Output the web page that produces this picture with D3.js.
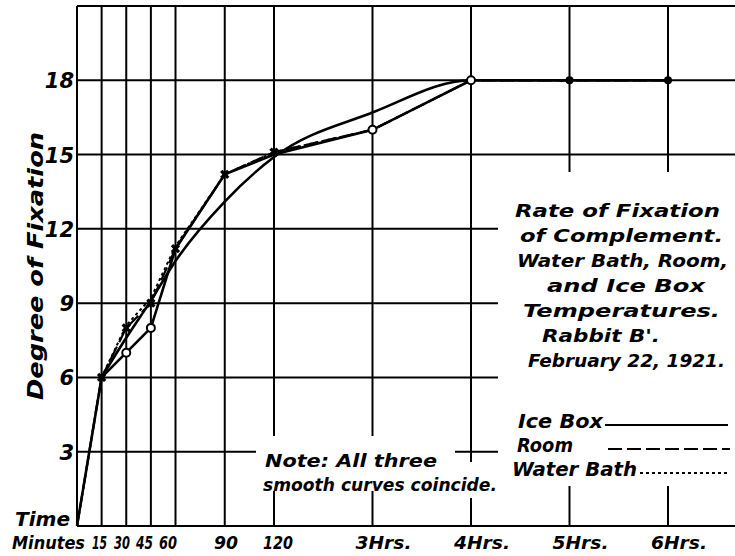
<!DOCTYPE html>
<html>
<head>
<meta charset="utf-8">
<script src="https://cdn.jsdelivr.net/npm/d3@7"></script>
<style>
  body { margin: 0; background: #fff; }
  text { font-family: "DejaVu Sans", sans-serif; font-weight: bold; font-style: italic; fill: #000; }
</style>
</head>
<body>
<div id="chartHolder"></div>
<script>
// data (minutes vs degree of fixation)
const timeMin   = [0, 15, 30, 45, 60, 90, 120, 180, 240, 300, 360];
const iceBox    = [0, 6, 7, 8, 11.2, 14.2, 15.0, 16.0, 18, 18, 18];
const room      = [0, 6, 8, 9, 11.2, 14.2, 15.1, 16.0, 18, 18, 18];
const waterBath = [0, 6, 8.1, 9.2, 11.3, 14.2, 15.1, 16.0, 18, 18, 18];

// the smooth curve (all three coincide)
const smoothTime  = [15, 30, 45, 60, 90, 120, 180, 240, 300, 360];
const smoothCurve = [6, 7.6, 9.1, 10.7, 13.1, 14.9, 16.7, 18, 18, 18];

// marker positions (times)
const circleMarks = [30, 45, 180, 240];
const dotMarks    = [300, 360];
const crossMarks  = [15, 30, 45, 60, 90, 120];

const xTicks      = [15, 30, 45, 60, 90, 120, 180, 240, 300, 360];
const xTickLabels = ["15", "30", "45", "60", "90", "120", "3Hrs.", "4Hrs.", "5Hrs.", "6Hrs."];
const yTicks      = [3, 6, 9, 12, 15, 18];

const titleLines  = ["Rate of Fixation", "of Complement.", "Water Bath, Room,", "and Ice Box",
                     "Temperatures.", "Rabbit B'.", "February 22, 1921."];
const legendNames = ["Ice Box", "Room", "Water Bath"];
const noteLines   = ["Note: All three", "smooth curves coincide."];

const w = 735, h = 556;

const svg = d3.select("#chartHolder").append("svg")
  .attr("width", w)
  .attr("height", h);

// scales: 0..360 min, 0..21 degrees
const x = d3.scaleLinear().domain([0, 360]).range([77, 668]);
const y = d3.scaleLinear().domain([0, 21]).range([526, 6]);

// grid
const grid = svg.append("g").attr("stroke", "#000").attr("stroke-width", 2);
grid.selectAll("line.v")
  .data(xTicks)
  .enter().append("line")
    .attr("class", "v")
    .attr("x1", d => x(d)).attr("x2", d => x(d))
    .attr("y1", y(21)).attr("y2", y(0));
grid.selectAll("line.h")
  .data(yTicks.concat([21]))
  .enter().append("line")
    .attr("class", "h")
    .attr("x1", x(0)).attr("x2", w)
    .attr("y1", d => y(d)).attr("y2", d => y(d));
// axes frame
grid.append("line").attr("x1", x(0)).attr("x2", x(0)).attr("y1", y(21)).attr("y2", y(0));
grid.append("line").attr("x1", x(0)).attr("x2", w).attr("y1", y(0)).attr("y2", y(0));

// white patches where the draughtsman lettered over the grid
const masks = [[498, 172, 237, 314], [256, 436, 199, 55], [462, 462, 36, 36]];
svg.selectAll("rect.mask")
  .data(masks)
  .enter().append("rect")
    .attr("class", "mask")
    .attr("x", d => d[0]).attr("y", d => d[1])
    .attr("width", d => d[2]).attr("height", d => d[3])
    .attr("fill", "#fff");

// lines
const pts = vals => timeMin.map((t, i) => [t, vals[i]]);
const line = d3.line().x(d => x(d[0])).y(d => y(d[1]));
const smooth = d3.line().x(d => x(d[0])).y(d => y(d[1])).curve(d3.curveMonotoneX);

svg.append("path")
  .attr("d", line(pts(waterBath)))
  .attr("fill", "none").attr("stroke", "#000").attr("stroke-width", 2)
  .attr("stroke-dasharray", "3,3");
svg.append("path")
  .attr("d", line(pts(room)))
  .attr("fill", "none").attr("stroke", "#000").attr("stroke-width", 2.2)
  .attr("stroke-dasharray", "14,5");
svg.append("path")
  .attr("d", line(pts(iceBox)))
  .attr("fill", "none").attr("stroke", "#000").attr("stroke-width", 2.6);
svg.append("path")
  .attr("d", smooth(smoothTime.map((t, i) => [t, smoothCurve[i]])))
  .attr("fill", "none").attr("stroke", "#000").attr("stroke-width", 2.6);

// markers
const valAt = (vals, t) => vals[timeMin.indexOf(t)];
svg.selectAll("circle.ice")
  .data(circleMarks)
  .enter().append("circle")
    .attr("class", "ice")
    .attr("cx", d => x(d)).attr("cy", d => y(valAt(iceBox, d)))
    .attr("r", 4).attr("fill", "#fff").attr("stroke", "#000").attr("stroke-width", 2);
svg.selectAll("circle.dot")
  .data(dotMarks)
  .enter().append("circle")
    .attr("class", "dot")
    .attr("cx", d => x(d)).attr("cy", d => y(valAt(iceBox, d)))
    .attr("r", 4).attr("fill", "#000");
svg.selectAll("path.cross")
  .data(crossMarks)
  .enter().append("path")
    .attr("class", "cross")
    .attr("d", d3.symbol().type(d3.symbolCross).size(55))
    .attr("transform", d => "translate(" + x(d) + "," + y(valAt(room, d)) + ") rotate(45)")
    .attr("fill", "#000");

// y tick labels
svg.selectAll("text.ylab")
  .data(yTicks)
  .enter().append("text")
    .attr("class", "ylab")
    .attr("x", 74).attr("y", d => y(d) + 8)
    .attr("text-anchor", "end")
    .style("font-size", "21px")
    .text(d => d);

// x tick labels (the minute ones are crowded, as on the plate)
const xStart = [92, 114, 136, 159, 214, 263];
const xLen = [15, 16, 17, 18, 24, 30];
svg.selectAll("text.xlab")
  .data(xTicks)
  .enter().append("text")
    .attr("class", "xlab")
    .attr("x", (d, i) => i < 6 ? xStart[i] : x(d) - 17)
    .attr("y", 549)
    .attr("textLength", (d, i) => i < 6 ? xLen[i] : 56)
    .attr("lengthAdjust", "spacingAndGlyphs")
    .style("font-size", "17px")
    .text((d, i) => xTickLabels[i]);

svg.append("text").attr("x", 15).attr("y", 526)
  .attr("textLength", 55).attr("lengthAdjust", "spacingAndGlyphs")
  .style("font-size", "19px").text("Time");
svg.append("text").attr("x", 12).attr("y", 549)
  .attr("textLength", 73).attr("lengthAdjust", "spacingAndGlyphs")
  .style("font-size", "18px").text("Minutes");

// y axis title
svg.append("text")
  .attr("transform", "translate(43,400) rotate(-90)")
  .attr("textLength", 268).attr("lengthAdjust", "spacingAndGlyphs")
  .style("font-size", "21px")
  .text("Degree of Fixation");

// title block
const titleX = [515, 520, 517, 547, 523, 542, 528];
const titleEnd = [720, 723, 728, 705, 720, 660, 725];
svg.selectAll("text.title")
  .data(titleLines)
  .enter().append("text")
    .attr("class", "title")
    .attr("x", (d, i) => titleX[i])
    .attr("y", (d, i) => 217 + i * 25)
    .attr("textLength", (d, i) => titleEnd[i] - titleX[i])
    .attr("lengthAdjust", "spacingAndGlyphs")
    .style("font-size", "18px")
    .text(d => d);

// legend
const legX = [518, 517, 512], legEnd = [603, 573, 637];
const legLine = [[605, 728, "none"], [608, 730, "14,5"], [640, 730, "3,3"]];
legendNames.forEach((name, i) => {
  const by = 428 + i * 24;
  svg.append("text")
    .attr("x", legX[i]).attr("y", by)
    .attr("textLength", legEnd[i] - legX[i]).attr("lengthAdjust", "spacingAndGlyphs")
    .style("font-size", "19px")
    .text(name);
  svg.append("line")
    .attr("x1", legLine[i][0]).attr("x2", legLine[i][1])
    .attr("y1", by - 3).attr("y2", by - 3)
    .attr("stroke", "#000").attr("stroke-width", 2)
    .attr("stroke-dasharray", legLine[i][2]);
});

// note
const noteX = [265, 263], noteEnd = [437, 497];
svg.selectAll("text.note")
  .data(noteLines)
  .enter().append("text")
    .attr("class", "note")
    .attr("x", (d, i) => noteX[i])
    .attr("y", (d, i) => 467 + i * 24)
    .attr("textLength", (d, i) => noteEnd[i] - noteX[i])
    .attr("lengthAdjust", "spacingAndGlyphs")
    .style("font-size", "18px")
    .text(d => d);
</script>
</body>
</html>
